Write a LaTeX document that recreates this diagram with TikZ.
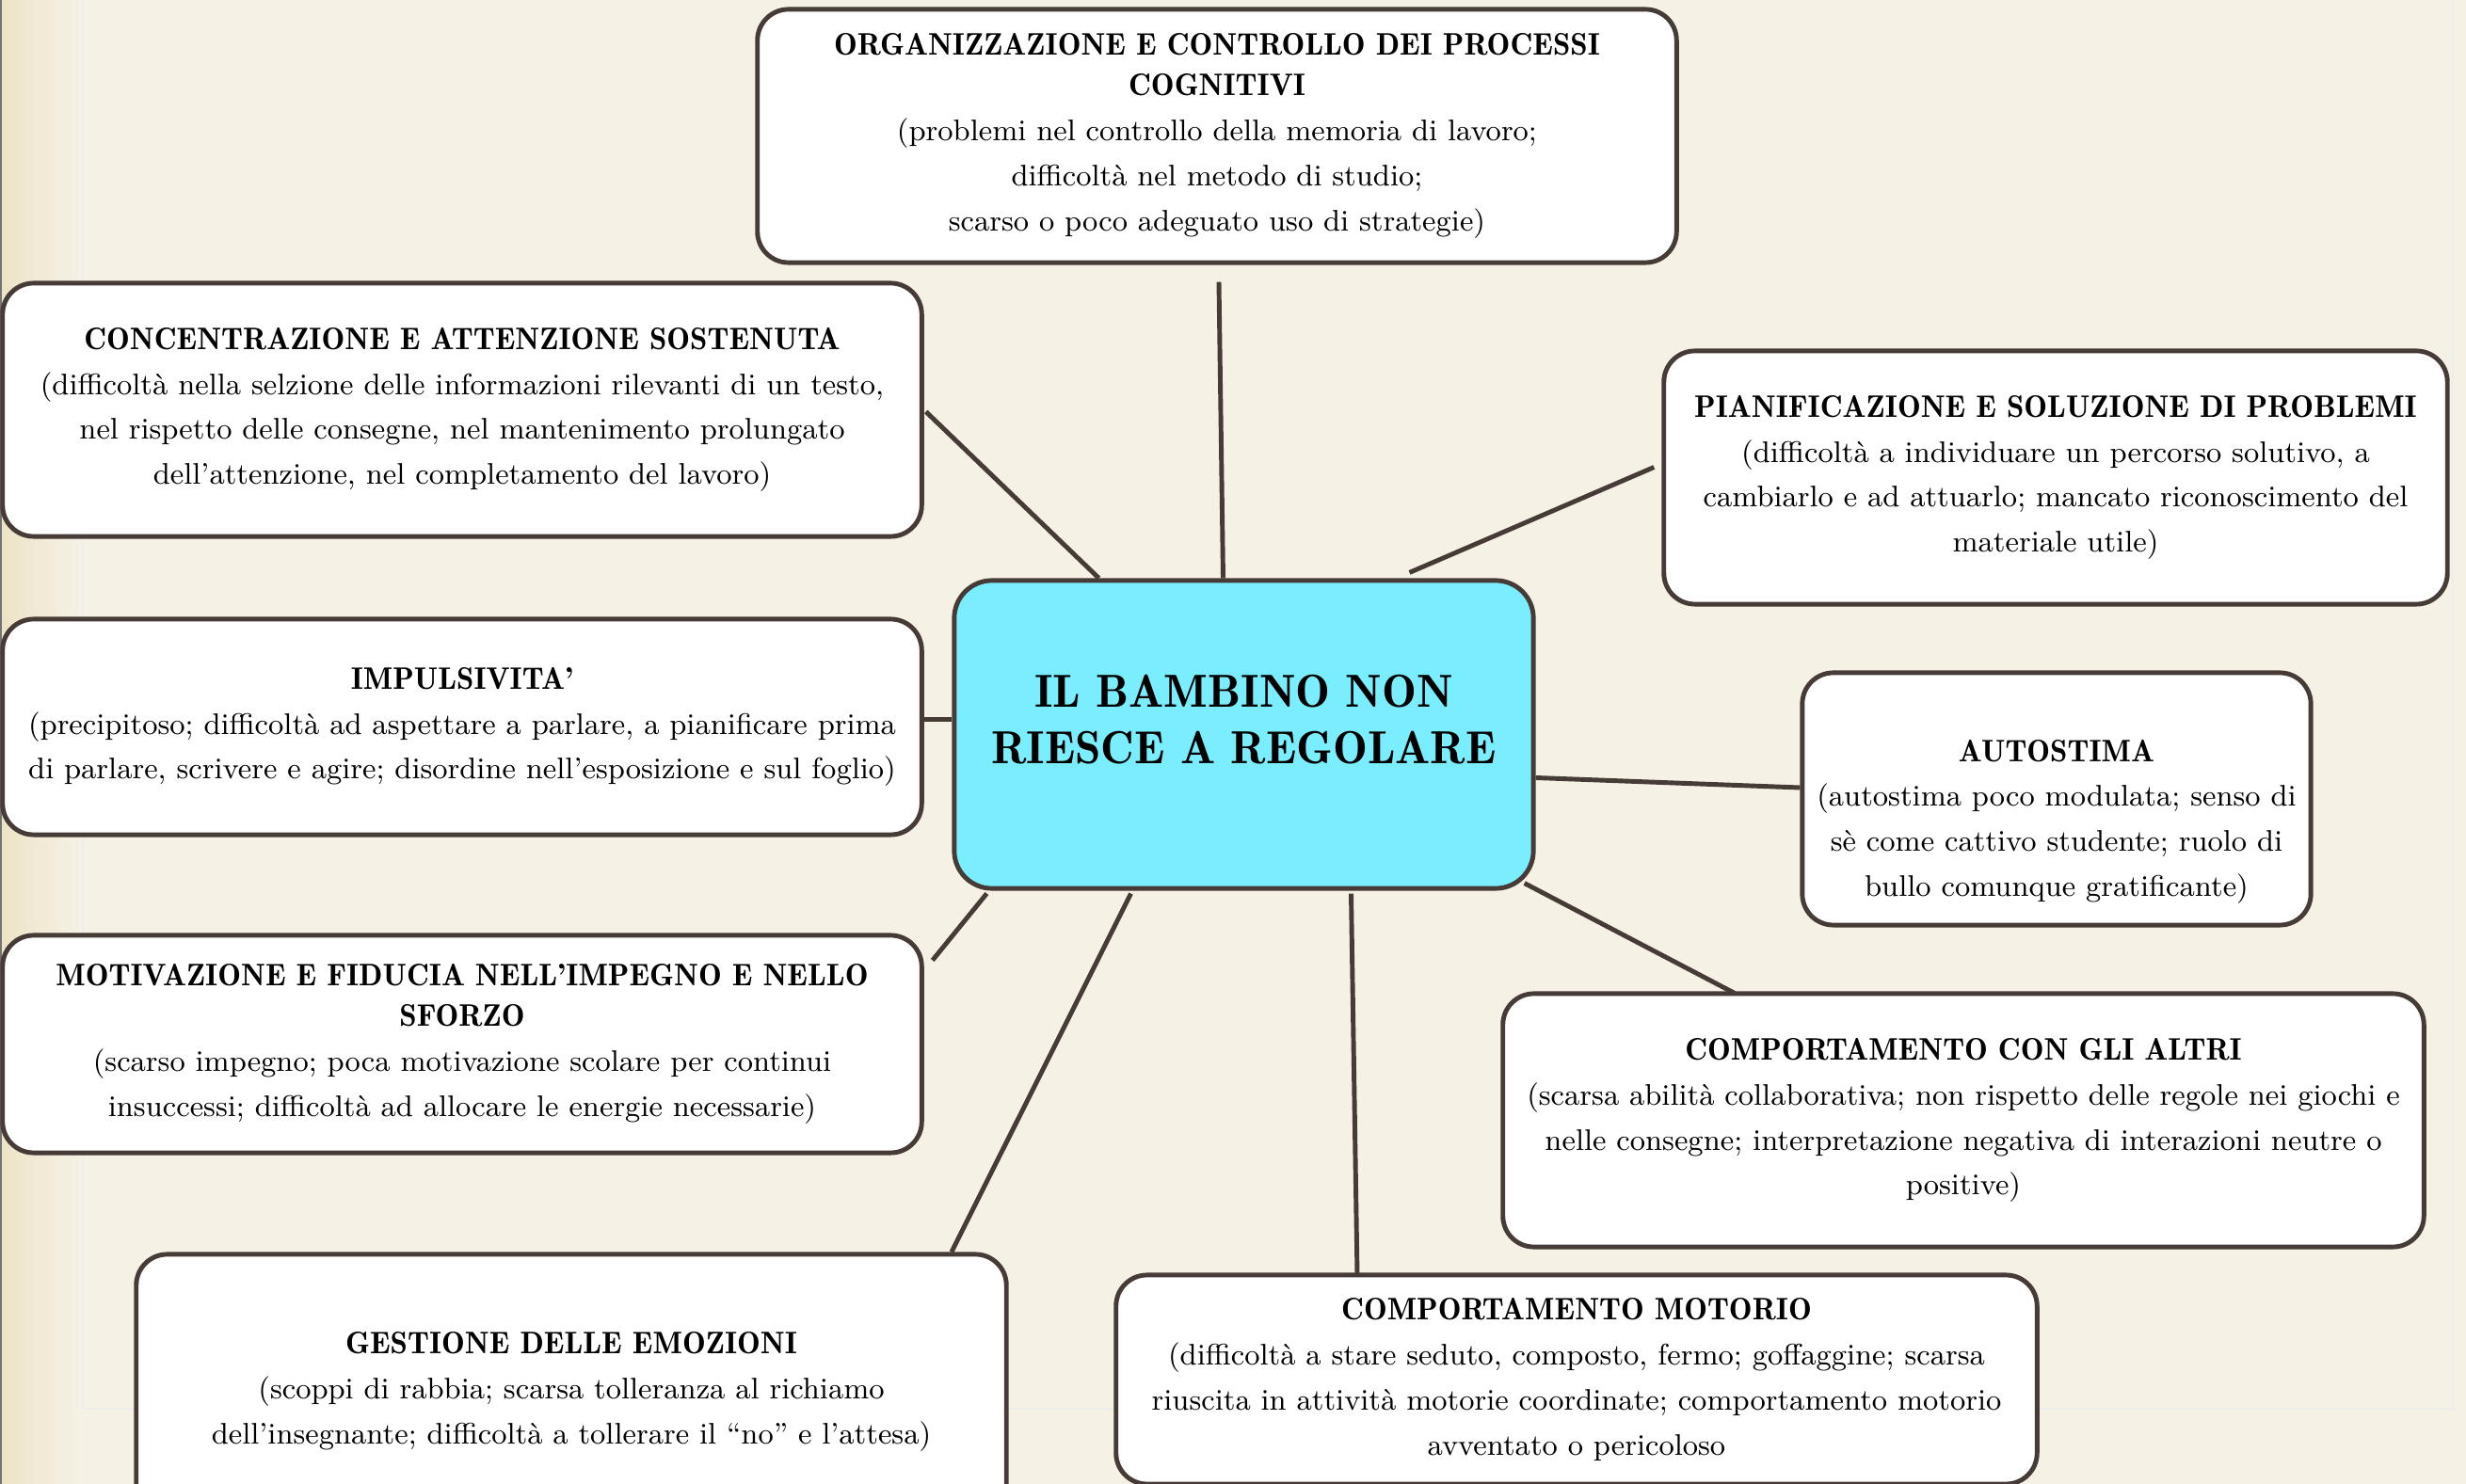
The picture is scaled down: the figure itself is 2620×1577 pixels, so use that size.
\documentclass[tikz,border=0pt]{standalone}
\usepackage{tikz}
\usetikzlibrary{shapes,positioning,calc}

\definecolor{bgcream}{HTML}{F5F1E5}
\definecolor{stripcream}{HTML}{EDE3C6}
\definecolor{edgebrown}{HTML}{463B36}
\definecolor{hubcyan}{HTML}{7AEEFE}

\newcommand{\ttl}[1]{{\fontseries{b}\fontsize{9.4}{13.6}\selectfont #1}}

\tikzset{
  box/.style={draw=edgebrown, line width=1.4pt, fill=white, rounded corners=0.33cm,
    align=center, inner sep=0pt, font=\fontsize{9}{13.6}\selectfont},
  hub/.style={box, fill=hubcyan, rounded corners=0.4cm, font=\fontseries{b}\fontsize{14}{17}\selectfont},
  link/.style={draw=edgebrown, line width=1.4pt}
}

\begin{document}
\begin{tikzpicture}[x=0.01cm,y=-0.01cm]
\useasboundingbox (0,0) rectangle (2620,1577);
\clip (0,0) rectangle (2620,1577);
% slide background
\fill[bgcream] (0,0) rectangle (2620,1577);
\shade[left color=stripcream, right color=bgcream] (0,0) rectangle (86,1577);
\draw[black!55, line width=0.8pt] (1,0) -- (1,1577);
\draw[black!7, line width=0.8pt] (88,-10) -- (88,1497) -- (2606,1497) -- (2606,-10);

% central node
\node[hub, minimum width=6.15cm, minimum height=3.27cm, text depth=0.33cm] (ctr) at (1321.5,780.5)
  {IL BAMBINO NON\\RIESCE A REGOLARE};

% surrounding nodes
\node[box, minimum width=9.76cm, minimum height=2.69cm] (org) at (1293,144.5)
  {\ttl{ORGANIZZAZIONE E CONTROLLO DEI PROCESSI}\\[-1.4pt]\ttl{COGNITIVI}\\(problemi nel controllo della memoria di lavoro;\\difficoltà nel metodo di studio;\\scarso o poco adeguato uso di strategie)};
\node[box, minimum width=9.76cm, minimum height=2.69cm] (conc) at (491,435.5)
  {\ttl{CONCENTRAZIONE E ATTENZIONE SOSTENUTA}\\(difficoltà nella selzione delle informazioni rilevanti di un testo,\\nel rispetto delle consegne, nel mantenimento prolungato\\dell’attenzione, nel completamento del lavoro)};
\node[box, minimum width=8.32cm, minimum height=2.69cm] (pian) at (2184,507.5)
  {\ttl{PIANIFICAZIONE E SOLUZIONE DI PROBLEMI}\\(difficoltà a individuare un percorso solutivo, a\\cambiarlo e ad attuarlo; mancato riconoscimento del\\materiale utile)};
\node[box, minimum width=9.76cm, minimum height=2.29cm] (imp) at (491,772.5)
  {\ttl{IMPULSIVITA’}\\(precipitoso; difficoltà ad aspettare a parlare, a pianificare prima\\di parlare, scrivere e agire; disordine nell’esposizione e sul foglio)};
\node[box, minimum width=5.40cm, minimum height=2.68cm, text height=2.15cm] (auto) at (2185,849)
  {\ttl{AUTOSTIMA}\\(autostima poco modulata; senso di\\sè come cattivo studente; ruolo di\\bullo comunque gratificante)};
\node[box, minimum width=9.76cm, minimum height=2.31cm] (motiv) at (491,1109.5)
  {\ttl{MOTIVAZIONE E FIDUCIA NELL’IMPEGNO E NELLO}\\[-1.4pt]\ttl{SFORZO}\\(scarso impegno; poca motivazione scolare per continui\\insuccessi; difficoltà ad allocare le energie necessarie)};
\node[box, minimum width=9.78cm, minimum height=2.69cm] (altri) at (2086,1190.5)
  {\ttl{COMPORTAMENTO CON GLI ALTRI}\\(scarsa abilità collaborativa; non rispetto delle regole nei giochi e\\nelle consegne; interpretazione negativa di interazioni neutre o\\positive)};
\node[box, minimum width=9.24cm, minimum height=2.92cm] (gest) at (607,1479)
  {\ttl{GESTIONE DELLE EMOZIONI}\\(scoppi di rabbia; scarsa tolleranza al richiamo\\dell’insegnante; difficoltà a tollerare il “no” e l’attesa)};
\node[box, minimum width=9.78cm, minimum height=2.22cm] (mot) at (1675,1466)
  {\ttl{COMPORTAMENTO MOTORIO}\\(difficoltà a stare seduto, composto, fermo; goffaggine; scarsa\\riuscita in attività motorie coordinate; comportamento motorio\\avventato o pericoloso};

% links to the centre
\draw[link] ($(org.south)+(2,18)$) -- ($(ctr.north)+(-22,0)$);
\draw[link] ($(conc.east)+(2,2)$) -- ($(ctr.north)+(-154,0)$);
\draw[link] ($(pian.west)+(-8,-11)$) -- ($(ctr.north)+(176,-6)$);
\draw[link] ($(imp.east)+(0,-8)$) -- ($(ctr.west)+(0,-16)$);
\draw[link] ($(ctr.east)+(0,46)$) -- ($(auto.west)+(0,-12)$);
\draw[link] ($(motiv.north east)+(9,29)$) -- ($(ctr.south west)+(37,3)$);
\draw[link] ($(ctr.south east)+(-12,-8)$) -- ($(altri.north)+(-243,2)$);
\draw[link] ($(ctr.south)+(-120,3)$) -- ($(gest.north)+(404,0)$);
\draw[link] ($(ctr.south)+(114,3)$) -- ($(mot.north)+(-233,2)$);
\end{tikzpicture}
\end{document}
